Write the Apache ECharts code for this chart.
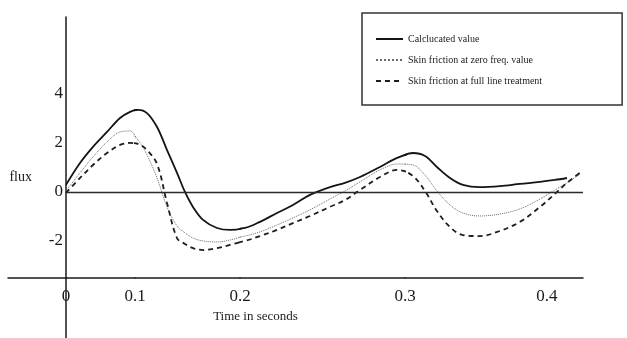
<!DOCTYPE html>
<html>
<head>
<meta charset="utf-8">
<script src="https://cdn.jsdelivr.net/npm/echarts@6/dist/echarts.min.js"></script>
<style>
html,body{margin:0;padding:0;background:#fff;}
#chart{width:627px;height:338px;}
</style>
</head>
<body>
<div id="chart"></div>
<script>
// ---- data (time in seconds, flux) ----
const timeSec = [0, 0.0203, 0.0391, 0.0594, 0.0783, 0.0928,
  0.1029, 0.1114, 0.1210, 0.1305, 0.1400, 0.1476, 0.1552, 0.1648, 0.1781, 0.1905,
  0.2030, 0.2121, 0.2224, 0.2321, 0.2424, 0.2545, 0.2636, 0.2727, 0.2848, 0.2952,
  0.3056, 0.3141, 0.3225, 0.3317, 0.3408, 0.3528, 0.3669, 0.3810, 0.3951, 0.4056, 0.4141, 0.4232];
const calculated = [0.29, 1.18, 1.84, 2.45, 3.02, 3.27,
  3.35, 3.22, 2.65, 1.71, 0.78, 0.00, -0.61, -1.14, -1.47, -1.55,
  -1.47, -1.22, -0.86, -0.53, -0.12, 0.20, 0.37, 0.61, 1.02, 1.39,
  1.59, 1.47, 1.02, 0.57, 0.29, 0.20, 0.24, 0.33, 0.41, 0.49, 0.57, null];
const zeroFreq = [0.04, 0.78, 1.43, 2.04, 2.45, 2.49,
  2.12, 1.51, 0.57, -0.61, -1.39, -1.67, -1.88, -2.00, -2.04, -1.96,
  -1.80, -1.63, -1.35, -1.06, -0.73, -0.29, 0.04, 0.41, 0.90, 1.14,
  1.10, 0.69, 0.04, -0.53, -0.86, -0.98, -0.90, -0.69, -0.29, 0.08, 0.37, 0.73];
const fullLine = [-0.04, 0.57, 1.10, 1.59, 1.92, 2.00,
  1.96, 1.71, 1.14, -0.45, -1.88, -2.12, -2.29, -2.37, -2.29, -2.16,
  -2.00, -1.80, -1.55, -1.27, -0.98, -0.61, -0.33, 0.08, 0.61, 0.90,
  0.65, 0.04, -0.78, -1.43, -1.76, -1.80, -1.59, -1.22, -0.61, -0.08, 0.37, 0.78];
const seriesNames = ['Calclucated value', 'Skin friction at zero freq. value', 'Skin friction at full line treatment'];
const xTickLabels = [0, 0.1, 0.2, 0.3, 0.4];
const yTickLabels = [-2, 0, 2, 4];

// ---- layout: the printed time axis is spaced unevenly, so it is drawn in pieces ----
// piece 0 is only the stub of the time axis to the left of the flux axis
const pieces = [
  {min: -0.0841, max: 0, left: 8, width: 58, stub: true},
  {min: 0, max: 0.1, left: 66, width: 69},
  {min: 0.1, max: 0.2, left: 135, width: 105},
  {min: 0.2, max: 0.3, left: 240, width: 165},
  {min: 0.3, max: 0.4254, left: 405, width: 178}
];
const Y_MIN = -5.96, Y_MAX = 7.14;
const FONT = 'Liberation Serif';
const INK = '#1a1a1a';

const styles = [
  {color: '#141414', width: 1.8, type: 'solid'},
  {color: '#6a6a6a', width: 1, type: 'dotted'},
  {color: '#1e1e1e', width: 1.8, type: [5, 4]}
];
const valueSets = [calculated, zeroFreq, fullLine];

const grid = [], xAxis = [], yAxis = [], series = [];
pieces.forEach((p, gi) => {
  grid.push({left: p.left, width: p.width, top: 17, bottom: 0, containLabel: false, outerBoundsMode: 'none'});
  const last = gi === pieces.length - 1;
  const labels = p.stub ? [] : xTickLabels.filter(v => v >= p.min && (v < p.max || (last && v <= p.max)));
  const xa = {
    type: 'value', gridIndex: gi, min: p.min, max: p.max, offset: -60,
    axisLine: {show: true, onZero: false, lineStyle: {color: INK, width: 1.5}},
    axisTick: {show: false},
    splitLine: {show: false},
    axisLabel: {show: !p.stub, customValues: labels, showMinLabel: true, showMaxLabel: true,
      margin: 10, fontFamily: FONT, fontSize: 17, color: INK,
      formatter: v => String(v)}
  };
  if (gi === 3) {
    xa.name = 'Time in seconds';
    xa.nameLocation = 'middle';
    xa.nameGap = 28;
    xa.nameTextStyle = {fontFamily: FONT, fontSize: 13, color: INK, padding: [0, 134, 0, 0]};
  }
  xAxis.push(xa);
  const ya = {
    type: 'value', gridIndex: gi, min: Y_MIN, max: Y_MAX, show: gi === 1,
    axisLine: {show: true, onZero: false, lineStyle: {color: INK, width: 1.5}},
    axisTick: {show: false},
    splitLine: {show: false},
    axisLabel: {show: true, customValues: yTickLabels, margin: 3,
      fontFamily: FONT, fontSize: 17, color: INK}
  };
  if (gi === 1) {
    ya.name = 'flux';
    ya.nameLocation = 'middle';
    ya.nameRotate = 0;
    ya.nameGap = 34;
    ya.nameTextStyle = {fontFamily: FONT, fontSize: 14, color: INK, padding: [0, 0, 25, 0]};
  }
  yAxis.push(ya);

  if (p.stub) return;
  valueSets.forEach((vals, si) => {
    const s = {
      name: seriesNames[si], type: 'line', xAxisIndex: gi, yAxisIndex: gi,
      data: timeSec.map((t, i) => [t, vals[i]]),
      smooth: 0.35, symbol: 'none', clip: true, animation: false,
      lineStyle: {color: styles[si].color, width: styles[si].width, type: styles[si].type},
      itemStyle: {color: styles[si].color}
    };
    if (si === 0) {
      s.markLine = {
        silent: true, symbol: ['none', 'none'], label: {show: false}, animation: false,
        lineStyle: {color: '#2a2a2a', width: 1.3, type: 'solid'},
        data: [{yAxis: 0}]
      };
    }
    series.push(s);
  });
});

const chart = echarts.init(document.getElementById('chart'), null, {renderer: 'canvas'});
chart.setOption({
  backgroundColor: '#ffffff',
  animation: false,
  textStyle: {fontFamily: FONT},
  legend: {
    data: seriesNames,
    orient: 'vertical', left: 362, top: 13,
    itemWidth: 27, itemHeight: 10, itemGap: 11,
    padding: [21, 80, 19, 13],
    borderColor: '#333', borderWidth: 1.5, backgroundColor: '#fff',
    itemStyle: {opacity: 0},
    textStyle: {fontFamily: FONT, fontSize: 10, color: INK},
    selectedMode: false
  },
  grid, xAxis, yAxis, series
});
</script>
</body>
</html>
